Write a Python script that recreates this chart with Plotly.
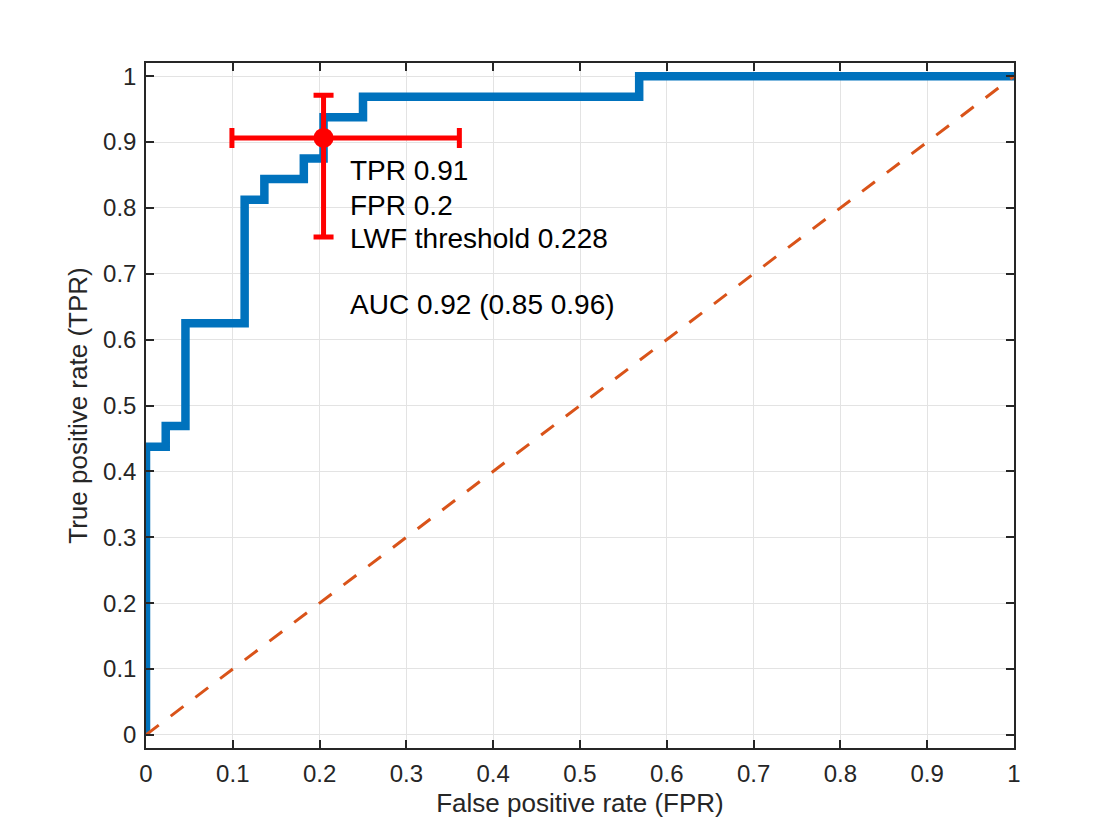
import plotly.graph_objects as go

# ROC step curve (FPR, TPR)
fpr = [0, 0, 1/44, 1/44, 2/44, 2/44, 5/44, 5/44, 6/44, 6/44, 8/44, 8/44, 9/44, 9/44, 11/44, 11/44, 25/44, 25/44, 1]
tpr = [0, 14/32, 14/32, 15/32, 15/32, 20/32, 20/32, 26/32, 26/32, 27/32, 27/32, 28/32, 28/32, 30/32, 30/32, 31/32, 31/32, 1, 1]

# chance line
chance_x = [0, 1]
chance_y = [0, 1]

# operating point with confidence interval
op_fpr = [9/44]
op_tpr = [29/32]
op_fpr_lo = [0.099]
op_fpr_hi = [0.361]
op_tpr_lo = [0.756]
op_tpr_hi = [0.971]

ann_lines = ["TPR 0.91", "FPR 0.2", "LWF threshold 0.228", "AUC 0.92 (0.85 0.96)"]
ann_y = [0.857, 0.804, 0.754, 0.654]
ann_x = 0.233

ticks = [i / 10 for i in range(11)]
tick_text = ["0", "0.1", "0.2", "0.3", "0.4", "0.5", "0.6", "0.7", "0.8", "0.9", "1"]

FONT = "Liberation Sans, Arial, Helvetica"

fig = go.Figure()
fig.add_trace(go.Scatter(x=fpr, y=tpr, mode="lines",
                         line=dict(color="#0072BD", width=8.5), showlegend=False))
fig.add_trace(go.Scatter(x=chance_x, y=chance_y, mode="lines",
                         line=dict(color="#D95319", width=3, dash="16px,15px"), showlegend=False))
fig.add_trace(go.Scatter(
    x=op_fpr, y=op_tpr, mode="markers",
    marker=dict(color="#FF0000", size=20),
    error_x=dict(type="data", symmetric=False,
                 array=[op_fpr_hi[0] - op_fpr[0]], arrayminus=[op_fpr[0] - op_fpr_lo[0]],
                 color="#FF0000", thickness=5, width=10),
    error_y=dict(type="data", symmetric=False,
                 array=[op_tpr_hi[0] - op_tpr[0]], arrayminus=[op_tpr[0] - op_tpr_lo[0]],
                 color="#FF0000", thickness=5, width=10),
    showlegend=False))

for txt, yy in zip(ann_lines, ann_y):
    fig.add_annotation(x=ann_x, y=yy, text=txt, showarrow=False,
                       xanchor="left", yanchor="middle",
                       font=dict(size=28, color="#000000", family=FONT))

axis_common = dict(
    showgrid=True, gridcolor="#E3E3E3", gridwidth=1,
    showline=True, linecolor="#262626", linewidth=1.5, mirror="allticks",
    ticks="inside", ticklen=8, tickcolor="#262626", tickwidth=1.5,
    tickfont=dict(size=24, color="#262626", family=FONT),
    zeroline=False, tickvals=ticks, ticktext=tick_text, ticklabelstandoff=3,
)

fig.update_layout(
    width=1120, height=840,
    paper_bgcolor="white", plot_bgcolor="white",
    margin=dict(l=138, r=114, t=55, b=100, autoexpand=False),
    xaxis=dict(range=[0, 1],
               title=dict(text="False positive rate (FPR)", standoff=8,
                          font=dict(size=26, color="#262626", family=FONT)),
               **axis_common),
    yaxis=dict(range=[-0.02, 1.02],
               title=dict(text="True positive rate (TPR)", standoff=8,
                          font=dict(size=26, color="#262626", family=FONT)),
               **axis_common),
)

fig.write_html("out.html")
